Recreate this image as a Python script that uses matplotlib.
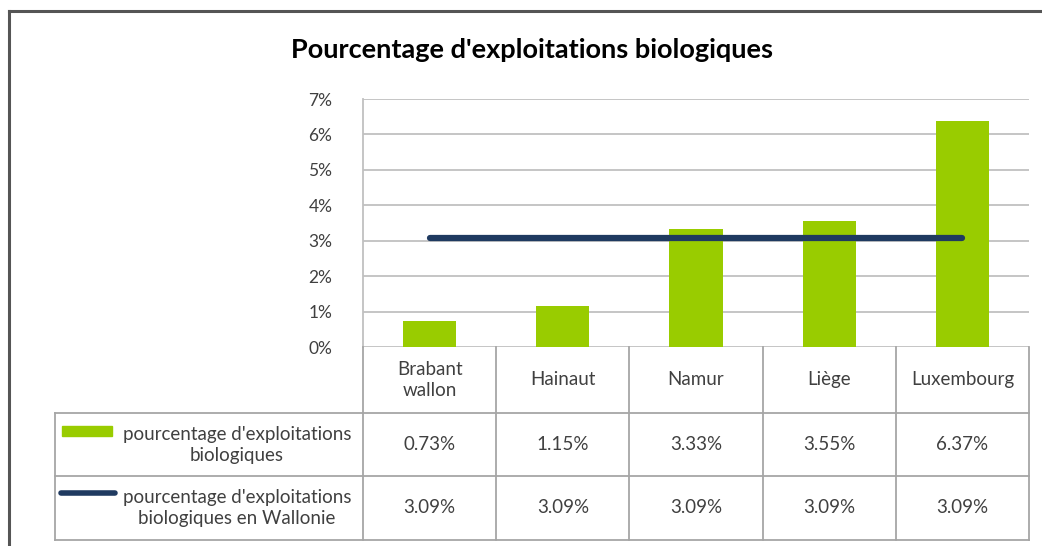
import numpy as np
import matplotlib.pyplot as plt
from matplotlib.lines import Line2D
from matplotlib.patches import Rectangle

plt.rcParams['font.family'] = ['Lato', 'DejaVu Sans']

provinces = ['Brabant\nwallon', 'Hainaut', 'Namur', 'Liège', 'Luxembourg']
pct_bio = [0.73, 1.15, 3.33, 3.55, 6.37]
pct_wallonie = [3.09, 3.09, 3.09, 3.09, 3.09]
yticks = [0, 1, 2, 3, 4, 5, 6, 7]
serie_names = ["pourcentage d'exploitations\nbiologiques",
               "pourcentage d'exploitations\nbiologiques en Wallonie"]

green = '#99CC00'
navy = '#1F3A60'
grid_col = '#C0C0C0'
txt_col = '#404040'
fs = 13.5

W, H = 1042, 546
fig = plt.figure(figsize=(W / 100, H / 100), dpi=100)

def fx(px):
    return px / W

def fy(py):
    return 1 - py / H

# outer frame (left + top only visible)
fig.add_artist(Line2D([fx(9), fx(9)], [fy(11), fy(546)], color='#555555', lw=2.2))
fig.add_artist(Line2D([fx(9), fx(1042)], [fy(11), fy(11)], color='#555555', lw=2.2))

fig.text(fx(532), fy(50), "Pourcentage d'exploitations biologiques",
         ha='center', va='center', fontsize=19.5, fontweight='bold', color='black')

# plot area
ax = fig.add_axes([fx(363), fy(347), fx(1029) - fx(363), fy(99) - fy(347)])
x = np.arange(len(provinces))
ax.bar(x, pct_bio, width=0.4, color=green, zorder=2)
ax.plot(x, pct_wallonie, color=navy, lw=4.5, solid_capstyle='round', zorder=3)
ax.set_xlim(-0.5, len(provinces) - 0.5)
ax.set_ylim(0, 7)
ax.set_yticks(yticks)
ax.set_yticklabels([f'{v}%' for v in yticks], color=txt_col, fontsize=12.5)
ax.set_xticks([])
ax.yaxis.grid(True, color=grid_col, lw=1.3, zorder=0)
for s in ['top', 'right', 'bottom']:
    ax.spines[s].set_visible(False)
ax.spines['left'].set_color(grid_col)
ax.spines['left'].set_linewidth(1.3)
ax.tick_params(axis='y', length=0, pad=22)

# data table below
tx0, tx1 = 55, 1029
col_w = (1029 - 363) / len(provinces)
tab = fig.add_axes([fx(tx0), fy(540), fx(tx1) - fx(tx0), fy(347) - fy(540)])
tab.set_xlim(tx0, tx1)
tab.set_ylim(540, 347)
tab.axis('off')
rows_y = [347, 413, 476, 540]
lc = '#A6A6A6'
for yy in rows_y[1:]:
    tab.plot([tx0, tx1], [yy, yy], color=lc, lw=1.3, clip_on=False)
tab.plot([tx0, tx0], [413, 540], color=lc, lw=1.3, clip_on=False)
for i in range(len(provinces) + 1):
    xx = 363 + i * col_w
    tab.plot([xx, xx], [347, 540], color=lc, lw=1.3, clip_on=False)

for i, name in enumerate(provinces):
    cx = 363 + (i + 0.5) * col_w
    tab.text(cx, 380, name, ha='center', va='center', fontsize=fs,
             color=txt_col, linespacing=1.3)
    tab.text(cx, 445, f'{pct_bio[i]:.2f}%', ha='center', va='center',
             fontsize=fs, color=txt_col)
    tab.text(cx, 508, f'{pct_wallonie[i]:.2f}%', ha='center', va='center',
             fontsize=fs, color=txt_col)

# legend keys inside the table
tab.add_patch(Rectangle((62, 426), 50, 10, color=green, clip_on=False))
tab.text(237, 445, serie_names[0], ha='center', va='center', fontsize=fs,
         color=txt_col, linespacing=1.3)
tab.plot([61, 115], [493, 493], color=navy, lw=4, solid_capstyle='round', clip_on=False)
tab.text(237, 508, serie_names[1], ha='center', va='center', fontsize=fs,
         color=txt_col, linespacing=1.3)

fig.savefig('out.png', dpi=100)
